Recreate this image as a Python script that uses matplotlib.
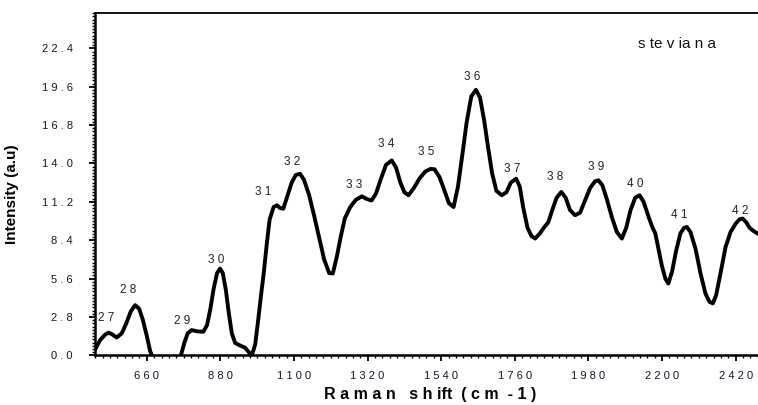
import matplotlib
matplotlib.use("Agg")
import matplotlib.pyplot as plt
from matplotlib.ticker import MultipleLocator, AutoMinorLocator, FuncFormatter
import numpy as np

plt.rcParams['font.family'] = ['Liberation Sans', 'DejaVu Sans']

# Raman spectrum (cm-1, a.u)
shift = [505, 520, 535, 545, 555, 570, 585, 598, 612, 625, 637, 648, 660, 670, 675,
         700, 740,
         762, 772, 782, 794, 810, 829, 840, 850, 860, 870, 879, 887, 896, 905, 914,
         924, 940, 954, 964, 974, 984, 993, 1001, 1009, 1018, 1027, 1039, 1049, 1058,
         1068, 1080, 1093, 1105, 1118, 1130, 1145, 1160, 1175, 1190, 1205, 1216, 1228,
         1240, 1252, 1268, 1285, 1303, 1318, 1332, 1345, 1360, 1375, 1392, 1405, 1418,
         1430, 1442, 1458, 1475, 1492, 1508, 1520, 1535, 1550, 1563, 1577, 1590, 1603,
         1616, 1630, 1644, 1656, 1668, 1680, 1692, 1705, 1721, 1735, 1748, 1764, 1775,
         1785, 1798, 1810, 1821, 1835, 1848, 1860, 1872, 1885, 1899, 1912, 1925, 1940,
         1955, 1970, 1985, 2000, 2010, 2022, 2035, 2050, 2065, 2080, 2093, 2106, 2120,
         2133, 2145, 2160, 2172, 2180, 2190, 2200, 2210, 2219, 2230, 2242, 2255, 2266,
         2274, 2285, 2300, 2315, 2330, 2342, 2352, 2362, 2375, 2390, 2405, 2420, 2432,
         2441, 2452, 2462, 2472, 2488]
intensity = [0.4, 1.1, 1.5, 1.65, 1.55, 1.3, 1.6, 2.3, 3.2, 3.66, 3.4, 2.6, 1.4, 0.3, 0.0,
             -1.2, -1.2,
             0.0, 0.9, 1.6, 1.84, 1.75, 1.72, 2.2, 3.4, 4.9, 6.0, 6.33, 6.0, 4.8, 3.1, 1.6,
             0.9, 0.7, 0.55, 0.25, 0.0, 0.8, 2.6, 4.3, 5.9, 8.0, 9.9, 10.82, 10.95, 10.75,
             10.7, 11.6, 12.6, 13.15, 13.25, 12.8, 11.7, 10.2, 8.6, 7.0, 6.0, 5.97, 7.2,
             8.7, 10.0, 10.82, 11.35, 11.6, 11.4, 11.3, 11.8, 12.9, 13.9, 14.22, 13.7, 12.6,
             11.9, 11.68, 12.2, 12.9, 13.4, 13.6, 13.58, 13.0, 12.0, 11.1, 10.82, 12.3, 14.6,
             17.0, 18.9, 19.37, 18.8, 17.2, 15.2, 13.3, 12.0, 11.68, 11.9, 12.6, 12.89, 12.3,
             10.8, 9.3, 8.7, 8.52, 8.9, 9.35, 9.7, 10.6, 11.5, 11.92, 11.5, 10.6, 10.22,
             10.4, 11.3, 12.2, 12.7, 12.77, 12.4, 11.4, 10.1, 9.0, 8.52, 9.3, 10.6, 11.5,
             11.68, 11.2, 10.1, 9.3, 8.9, 7.7, 6.5, 5.6, 5.24, 6.1, 7.6, 8.9, 9.3,
             9.37, 9.0, 7.8, 6.0, 4.5, 3.9, 3.79, 4.4, 6.0, 7.9, 9.0, 9.6, 9.93,
             9.98, 9.7, 9.3, 9.1, 8.85]

# band numbers and where they are written
band_ids = ["27", "28", "29", "30", "31", "32", "33", "34", "35", "36", "37", "38",
            "39", "40", "41", "42"]
band_x = [540, 605, 765, 867, 1009, 1093, 1280, 1377, 1495, 1632, 1752, 1881, 2004,
          2121, 2253, 2435]
band_y = [2.69, 4.76, 2.52, 6.94, 11.92, 14.10, 12.45, 15.39, 14.83, 20.29, 13.62,
          13.01, 13.74, 12.53, 10.22, 10.53]

fig = plt.figure(figsize=(7.58, 4.05), dpi=100)
ax = fig.add_axes([0.1253, 0.1227, 0.8747, 0.8459])

ax.plot(shift, intensity, color="black", lw=2.8, solid_joinstyle="round",
        solid_capstyle="round")

for lab, bx, by in zip(band_ids, band_x, band_y):
    ax.text(bx, by, " ".join(lab), ha="center", va="center", fontsize=8.5, color="#222222")

ax.text(2244, 22.7, "s te v ia n a", ha="center", va="center", fontsize=11, color="#111111")

ax.set_xlim(505, 2487)
ax.set_ylim(0, 25)

ax.xaxis.set_major_locator(MultipleLocator(220))
ax.xaxis.set_minor_locator(AutoMinorLocator(10))
ax.yaxis.set_major_locator(MultipleLocator(2.8))
ax.yaxis.set_minor_locator(AutoMinorLocator(12))
ax.xaxis.set_major_formatter(FuncFormatter(lambda v, p: " ".join("%d" % round(v))))
ax.yaxis.set_major_formatter(FuncFormatter(lambda v, p: " ".join("%.1f" % v)))

ax.tick_params(which="major", direction="out", length=4, width=1.3, labelsize=8,
               labelcolor="#15152a")
ax.tick_params(which="minor", direction="out", length=2.5, width=1.0)
ax.tick_params(axis="x", which="major", pad=7)
ax.tick_params(axis="y", which="major", pad=12)

ax.spines["right"].set_visible(False)
ax.spines["left"].set_linewidth(1.8)
ax.spines["bottom"].set_linewidth(1.8)
ax.spines["top"].set_linewidth(1.3)

ax.set_ylabel("Intensity (a.u)", fontsize=11, fontweight="bold")
ax.yaxis.set_label_coords(-0.115, 0.47)
ax.set_xlabel("R a m a n   s h ift  ( c m  - 1 )", fontsize=11.5, fontweight="bold")
ax.xaxis.set_label_coords(0.505, -0.093)

fig.savefig("out.png", dpi=100)
